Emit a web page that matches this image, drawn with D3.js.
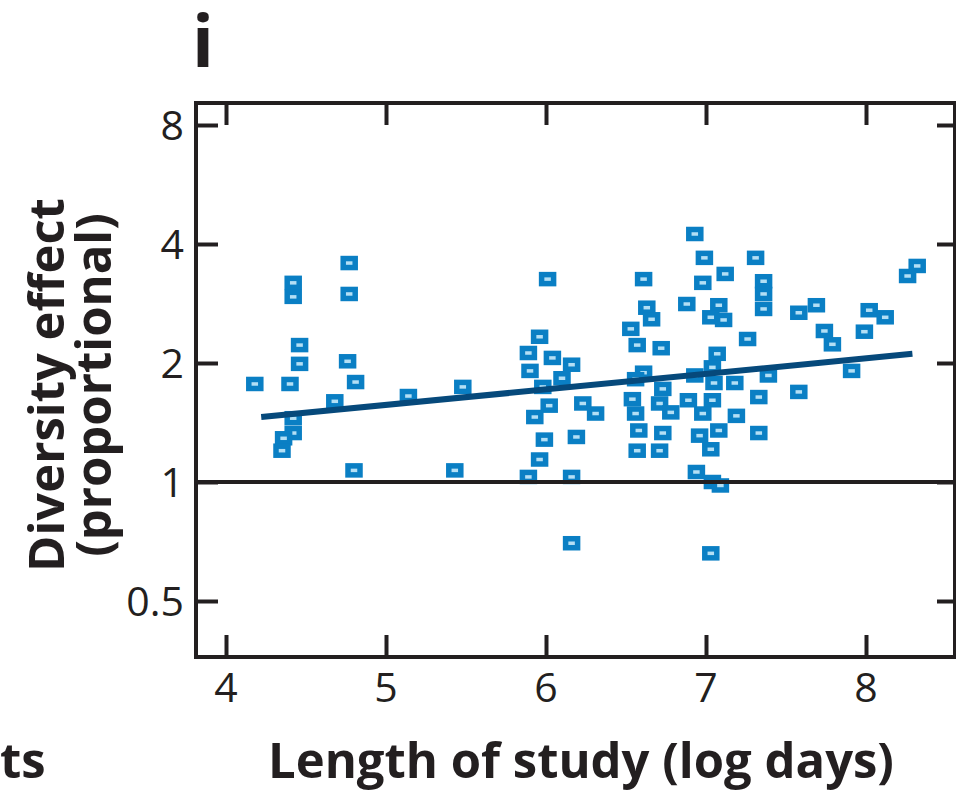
<!DOCTYPE html>
<html lang="en">
<head>
    <meta charset="UTF-8">
    <title>Diversity effect vs length of study</title>
    <script src="https://d3js.org/d3.v7.min.js"></script>
    <style>
        body { margin: 0; background: #fff; }
        svg { display: block; }
        .tick-label { font-family: "Open Sans", sans-serif; font-size: 41px; fill: #231f20; }
        .title { font-family: "Open Sans", sans-serif; font-weight: 700; font-size: 49px; fill: #231f20; }
    </style>
</head>
<body>
<div id="chart"></div>
<script>
    // length of study (log days)
    const studyLength = [
        4.77, 4.42, 4.42, 4.77, 4.46, 4.46, 4.76, 4.18, 4.40, 4.81, 4.68, 4.42, 4.42, 4.36, 4.35, 4.80,
        6.01, 5.96, 5.89, 6.04, 6.16, 5.90, 6.10, 5.98, 5.14, 5.48, 6.02, 5.93, 6.23, 6.31, 5.99, 6.19,
        5.96, 5.43, 5.89, 6.16, 6.16,
        6.93, 6.99, 7.31, 7.12, 6.61, 6.98, 6.88, 6.63, 7.08, 6.66, 7.03, 7.11, 6.53, 6.57, 7.26, 6.72,
        7.07, 7.04, 6.61, 6.56, 6.93, 7.05, 7.18, 6.73, 6.54, 6.71, 6.89, 7.04, 6.78, 6.56, 6.98, 7.19,
        6.58, 6.73, 6.96, 7.08, 6.57, 6.71, 7.03, 6.94, 7.04, 7.09, 7.03,
        7.36, 7.36, 7.36, 7.58, 7.69, 7.74, 7.79, 8.02, 8.12, 7.99, 8.26, 8.32, 7.91, 7.39, 7.58, 7.33, 7.33
    ];
    // diversity effect (proportional)
    const diversityEffect = [
        3.58, 3.19, 2.94, 2.99, 2.22, 1.99, 2.02, 1.77, 1.77, 1.79, 1.60, 1.45, 1.33, 1.29, 1.20, 1.07,
        3.26, 2.33, 2.12, 2.06, 1.98, 1.91, 1.83, 1.74, 1.65, 1.74, 1.56, 1.46, 1.58, 1.49, 1.28, 1.30,
        1.14, 1.07, 1.03, 1.03, 0.70,
        4.24, 3.69, 3.69, 3.36, 3.26, 3.19, 2.82, 2.76, 2.80, 2.58, 2.61, 2.57, 2.44, 2.22, 2.30, 2.18,
        2.11, 1.95, 1.89, 1.82, 1.86, 1.78, 1.78, 1.72, 1.62, 1.58, 1.61, 1.61, 1.50, 1.49, 1.49, 1.47,
        1.35, 1.33, 1.31, 1.35, 1.20, 1.20, 1.21, 1.06, 1.00, 0.98, 0.66,
        3.22, 2.99, 2.74, 2.68, 2.80, 2.41, 2.23, 2.72, 2.61, 2.40, 3.32, 3.52, 1.91, 1.86, 1.69, 1.64, 1.33
    ];
    // fitted line end points
    const fitX = [4.22, 8.29];
    const fitY = [1.46, 2.11];

    const xTicks = [4, 5, 6, 7, 8];
    const yTicks = [0.5, 1, 2, 4, 8];
    const yTickLabels = ["0.5", "1", "2", "4", "8"];

    const width = 956, height = 791;
    const plotLeft = 196, plotRight = 955, plotTop = 103, plotBottom = 657;
    const ink = "#231f20";

    const svg = d3.select("#chart").append("svg")
        .attr("width", width)
        .attr("height", height);

    // 4 -> 226, 160px per unit
    const x = d3.scaleLinear()
        .domain([4 - 30 / 160, 4 + (plotRight - 226) / 160])
        .range([plotLeft, plotRight]);

    const y = d3.scaleLog().base(2)
        .domain([Math.pow(2, -(plotBottom - 482) / 119), Math.pow(2, (482 - plotTop) / 119)])
        .range([plotBottom, plotTop]);

    // points
    const points = svg.append("g");
    points.selectAll("rect")
        .data(studyLength.map((d, i) => [d, diversityEffect[i]]))
        .enter().append("rect")
        .attr("x", d => x(d[0]) - 6)
        .attr("y", d => y(d[1]) - 4.5)
        .attr("width", 12)
        .attr("height", 9)
        .attr("fill", "#b3dff5")
        .attr("stroke", "#0a7fc4")
        .attr("stroke-width", 5.5);

    // reference line at 1
    svg.append("line")
        .attr("x1", plotLeft).attr("x2", plotRight)
        .attr("y1", y(1)).attr("y2", y(1))
        .attr("stroke", ink)
        .attr("stroke-width", 4);

    // fitted line
    svg.append("line")
        .attr("x1", x(fitX[0])).attr("y1", y(fitY[0]))
        .attr("x2", x(fitX[1])).attr("y2", y(fitY[1]))
        .attr("stroke", "#06497b")
        .attr("stroke-width", 6);

    // frame
    svg.append("rect")
        .attr("x", plotLeft).attr("y", plotTop)
        .attr("width", plotRight - plotLeft).attr("height", plotBottom - plotTop)
        .attr("fill", "none")
        .attr("stroke", ink)
        .attr("stroke-width", 4);

    // axes with inward ticks
    const tickLen = 22;
    svg.append("g")
        .attr("transform", `translate(0,${plotBottom})`)
        .call(d3.axisTop(x).tickValues(xTicks).tickSize(tickLen).tickFormat(""))
        .call(g => g.select(".domain").remove());
    svg.append("g")
        .attr("transform", `translate(0,${plotTop})`)
        .call(d3.axisBottom(x).tickValues(xTicks).tickSize(tickLen).tickFormat(""))
        .call(g => g.select(".domain").remove());
    svg.append("g")
        .attr("transform", `translate(${plotLeft},0)`)
        .call(d3.axisRight(y).tickValues(yTicks).tickSize(tickLen).tickFormat(""))
        .call(g => g.select(".domain").remove());
    svg.append("g")
        .attr("transform", `translate(${plotRight},0)`)
        .call(d3.axisLeft(y).tickValues(yTicks).tickSize(tickLen - 4).tickFormat(""))
        .call(g => g.select(".domain").remove());
    svg.selectAll(".tick line").attr("stroke", ink).attr("stroke-width", 4);

    // tick labels
    svg.append("g").selectAll("text")
        .data(xTicks)
        .enter().append("text")
        .attr("class", "tick-label")
        .attr("x", d => x(d))
        .attr("y", 702)
        .attr("text-anchor", "middle")
        .text(d => d);

    svg.append("g").selectAll("text")
        .data(yTicks)
        .enter().append("text")
        .attr("class", "tick-label")
        .attr("x", 184)
        .attr("y", d => y(d) + 15)
        .attr("text-anchor", "end")
        .text((d, i) => yTickLabels[i]);

    // titles
    svg.append("text")
        .attr("class", "title")
        .attr("x", 581).attr("y", 778)
        .attr("text-anchor", "middle")
        .text("Length of study (log days)");

    svg.append("text")
        .attr("class", "title")
        .attr("x", 0).attr("y", 778)
        .text("ts");

    const yTitle = svg.append("text")
        .attr("class", "title")
        .attr("text-anchor", "middle")
        .attr("transform", "translate(64,385) rotate(-90)");
    yTitle.append("tspan").attr("x", 0).attr("y", 0).text("Diversity effect");
    yTitle.append("tspan").attr("x", 0).attr("y", 47).text("(proportional)");

    svg.append("text")
        .attr("class", "title")
        .attr("x", 192).attr("y", 67)
        .style("font-size", "72px")
        .text("i");
</script>
</body>
</html>
